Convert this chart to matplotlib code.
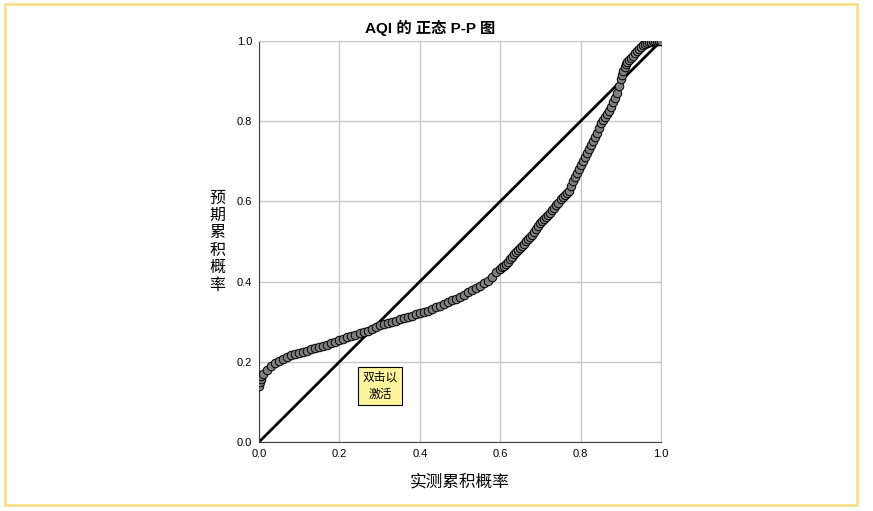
import matplotlib
matplotlib.use("Agg")
import matplotlib.pyplot as plt
from matplotlib.patches import Rectangle

plt.rcParams['font.family'] = ['Liberation Sans', 'Noto Sans CJK SC', 'DejaVu Sans']

title = "AQI 的 正态 P-P 图"
x_label = "实测累积概率"
y_label = "预\n期\n累\n积\n概\n率"
ticks = [0.0, 0.2, 0.4, 0.6, 0.8, 1.0]
tick_labels = ["0.0", "0.2", "0.4", "0.6", "0.8", "1.0"]

obs = [0.000, 0.002, 0.004, 0.006, 0.01, 0.02, 0.03, 0.04, 0.05, 0.06, 0.07, 0.08, 0.09,
       0.10, 0.11, 0.12, 0.13, 0.14, 0.15, 0.16, 0.17, 0.18, 0.19,
       0.20, 0.21, 0.22, 0.23, 0.24, 0.25, 0.26, 0.27, 0.28, 0.29,
       0.30, 0.31, 0.32, 0.33, 0.34, 0.35, 0.36, 0.37, 0.38, 0.39,
       0.40, 0.41, 0.42, 0.43, 0.44, 0.45, 0.46, 0.47, 0.48, 0.49,
       0.50, 0.51, 0.52, 0.53, 0.54, 0.55, 0.56, 0.57, 0.58, 0.59,
       0.60, 0.605, 0.61, 0.615, 0.62, 0.625, 0.63, 0.635, 0.64, 0.645,
       0.65, 0.655, 0.66, 0.665, 0.67, 0.675, 0.68, 0.685, 0.69, 0.695,
       0.70, 0.705, 0.71, 0.715, 0.72, 0.725, 0.73, 0.735, 0.74, 0.745,
       0.75, 0.755, 0.76, 0.765, 0.77, 0.775, 0.78, 0.785, 0.79, 0.795,
       0.80, 0.805, 0.81, 0.815, 0.82, 0.825, 0.83, 0.835, 0.84, 0.845,
       0.85, 0.855, 0.86, 0.865, 0.87, 0.875, 0.88, 0.885, 0.89, 0.895,
       0.90, 0.903, 0.906, 0.91, 0.913, 0.916, 0.92, 0.925, 0.93, 0.935, 0.94, 0.945,
       0.95, 0.955, 0.96, 0.965, 0.97, 0.975, 0.98, 0.985, 0.99, 0.995, 1.00]
exp = [0.140, 0.150, 0.158, 0.164, 0.170, 0.180, 0.190, 0.198, 0.203, 0.208, 0.212, 0.216, 0.219,
       0.222, 0.225, 0.228, 0.231, 0.234, 0.237, 0.240, 0.243, 0.247, 0.250,
       0.254, 0.257, 0.261, 0.265, 0.268, 0.272, 0.275, 0.278, 0.283, 0.287,
       0.291, 0.294, 0.297, 0.300, 0.302, 0.306, 0.309, 0.312, 0.315, 0.318,
       0.321, 0.324, 0.327, 0.331, 0.336, 0.340, 0.344, 0.348, 0.353, 0.357,
       0.362, 0.367, 0.373, 0.379, 0.384, 0.390, 0.396, 0.402, 0.412, 0.424,
       0.432, 0.436, 0.440, 0.445, 0.450, 0.456, 0.462, 0.468, 0.474, 0.480,
       0.485, 0.490, 0.495, 0.500, 0.505, 0.510, 0.516, 0.523, 0.530, 0.538,
       0.545, 0.551, 0.556, 0.561, 0.566, 0.572, 0.578, 0.584, 0.590, 0.597,
       0.605, 0.610, 0.615, 0.620, 0.626, 0.638, 0.650, 0.660, 0.670, 0.680,
       0.690, 0.700, 0.710, 0.720, 0.730, 0.740, 0.750, 0.760, 0.770, 0.783,
       0.795, 0.803, 0.810, 0.818, 0.825, 0.836, 0.848, 0.859, 0.870, 0.888,
       0.905, 0.915, 0.925, 0.935, 0.942, 0.948, 0.952, 0.957, 0.962, 0.969, 0.975, 0.980,
       0.985, 0.989, 0.992, 0.995, 0.997, 0.998, 0.999, 1.000, 1.000, 1.000, 1.000]

fig = plt.figure(figsize=(8.73, 5.11), dpi=100)
ax = fig.add_axes([259 / 873, 69 / 511, 402 / 873, 401 / 511])

ax.plot([0, 1], [0, 1], color="black", lw=2.0, zorder=2)
ax.scatter(obs, exp, s=38, facecolor="#7f7f7f", edgecolor="black", linewidth=0.7, zorder=3)

ax.set_xlim(0, 1)
ax.set_ylim(0, 1)
ax.set_xticks(ticks)
ax.set_xticklabels(tick_labels)
ax.set_yticks(ticks)
ax.set_yticklabels(tick_labels)
ax.tick_params(length=0, labelsize=8, pad=5)
ax.grid(True, color="#c8c8c8", lw=1.0, zorder=0)
ax.set_axisbelow(True)
for side in ["left", "bottom"]:
    ax.spines[side].set_color("#404040")
for side in ["top", "right"]:
    ax.spines[side].set_color("#c8c8c8")

# title sits a bit left of the axes centre, as in the SPSS output
fig.text(430 / 873, 1 - 28 / 511, title, fontsize=11, fontweight="bold", ha="center", va="center")
ax.set_xlabel(x_label, fontsize=12, labelpad=11)
ax.set_ylabel(y_label, fontsize=11.5, rotation=0, labelpad=14, va="center", linespacing=1.2)

# "double-click to activate" note
fig.text(380 / 873, 1 - 386 / 511, "双击以\n激活", fontsize=8.5, ha="center", va="center",
         linespacing=1.55,
         bbox=dict(boxstyle="square,pad=0.4", facecolor="#fdf59b", edgecolor="black", lw=0.8))

# yellow frame around the figure
fig.patches.append(Rectangle((5 / 873, 1 - 505 / 511), 852 / 873, 501 / 511,
                             transform=fig.transFigure, fill=False,
                             edgecolor="#f8e08a", lw=2))

fig.savefig("out.png", dpi=100)
